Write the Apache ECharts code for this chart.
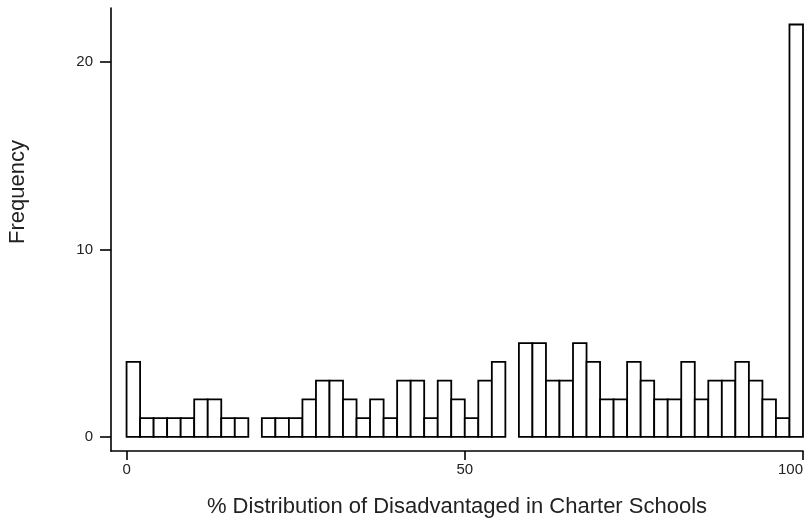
<!DOCTYPE html>
<html>
<head>
<meta charset="utf-8">
<script src="https://cdn.jsdelivr.net/npm/echarts@6/dist/echarts.min.js"></script>
<style>
  html, body { margin: 0; padding: 0; background: #fff; }
  #chart { width: 808px; height: 520px; }
</style>
</head>
<body>
<div id="chart"></div>
<script>
// histogram: 50 bins of width 2 over 0..100
const binWidth = 2;
const counts = [
  4, 1, 1, 1, 1, 2, 2, 1, 1, 0,
  1, 1, 1, 2, 3, 3, 2, 1, 2, 1,
  3, 3, 1, 3, 2, 1, 3, 4, 0, 5,
  5, 3, 3, 5, 4, 2, 2, 4, 3, 2,
  2, 4, 2, 3, 3, 4, 3, 2, 1, 22
];
const xTicks = [0, 50, 100];
const yTicks = [0, 10, 20];

const font = "'Liberation Sans', Arial, Helvetica, sans-serif";

const bins = counts.map((c, i) => [i * binWidth, (i + 1) * binWidth, c]);

const chart = echarts.init(document.getElementById('chart'));

chart.setOption({
  animation: false,
  backgroundColor: '#fff',
  textStyle: { fontFamily: font },
  grid: { left: 111, right: 5, top: 8, bottom: 69, outerBoundsMode: 'none', containLabel: false },
  xAxis: {
    type: 'value',
    min: -2.3,
    max: 100,
    splitLine: { show: false },
    axisLine: { onZero: false, lineStyle: { color: '#000', width: 1.6 } },
    axisTick: { customValues: xTicks, length: 9, lineStyle: { color: '#000', width: 1.6 } },
    axisLabel: { customValues: xTicks, color: '#222', fontSize: 15, margin: 11, alignMaxLabel: 'right' },
    name: '% Distribution of Disadvantaged in Charter Schools',
    nameLocation: 'middle',
    nameGap: 45,
    nameTextStyle: { color: '#222', fontSize: 22 }
  },
  yAxis: {
    type: 'value',
    min: -0.75,
    max: 22.88,
    splitLine: { show: false },
    axisLine: { onZero: false, lineStyle: { color: '#000', width: 1.6 } },
    axisTick: { customValues: yTicks, length: 11, lineStyle: { color: '#000', width: 1.6 } },
    axisLabel: { customValues: yTicks, color: '#222', fontSize: 15, margin: 18 }
  },
  graphic: [{
    type: 'text',
    left: 7,
    top: 140,
    rotation: Math.PI / 2,
    style: { text: 'Frequency', fill: '#222', font: '22px ' + font }
  }],
  series: [{
    type: 'custom',
    data: bins,
    encode: { x: [0, 1], y: 2 },
    renderItem: function (params, api) {
      const h = api.value(2);
      if (!h) return null;
      const p0 = api.coord([api.value(0), h]);
      const p1 = api.coord([api.value(1), 0]);
      return {
        type: 'rect',
        shape: { x: p0[0], y: p0[1], width: p1[0] - p0[0], height: p1[1] - p0[1] },
        style: { fill: '#fff', stroke: '#000', lineWidth: 1.8 }
      };
    }
  }]
});
</script>
</body>
</html>
